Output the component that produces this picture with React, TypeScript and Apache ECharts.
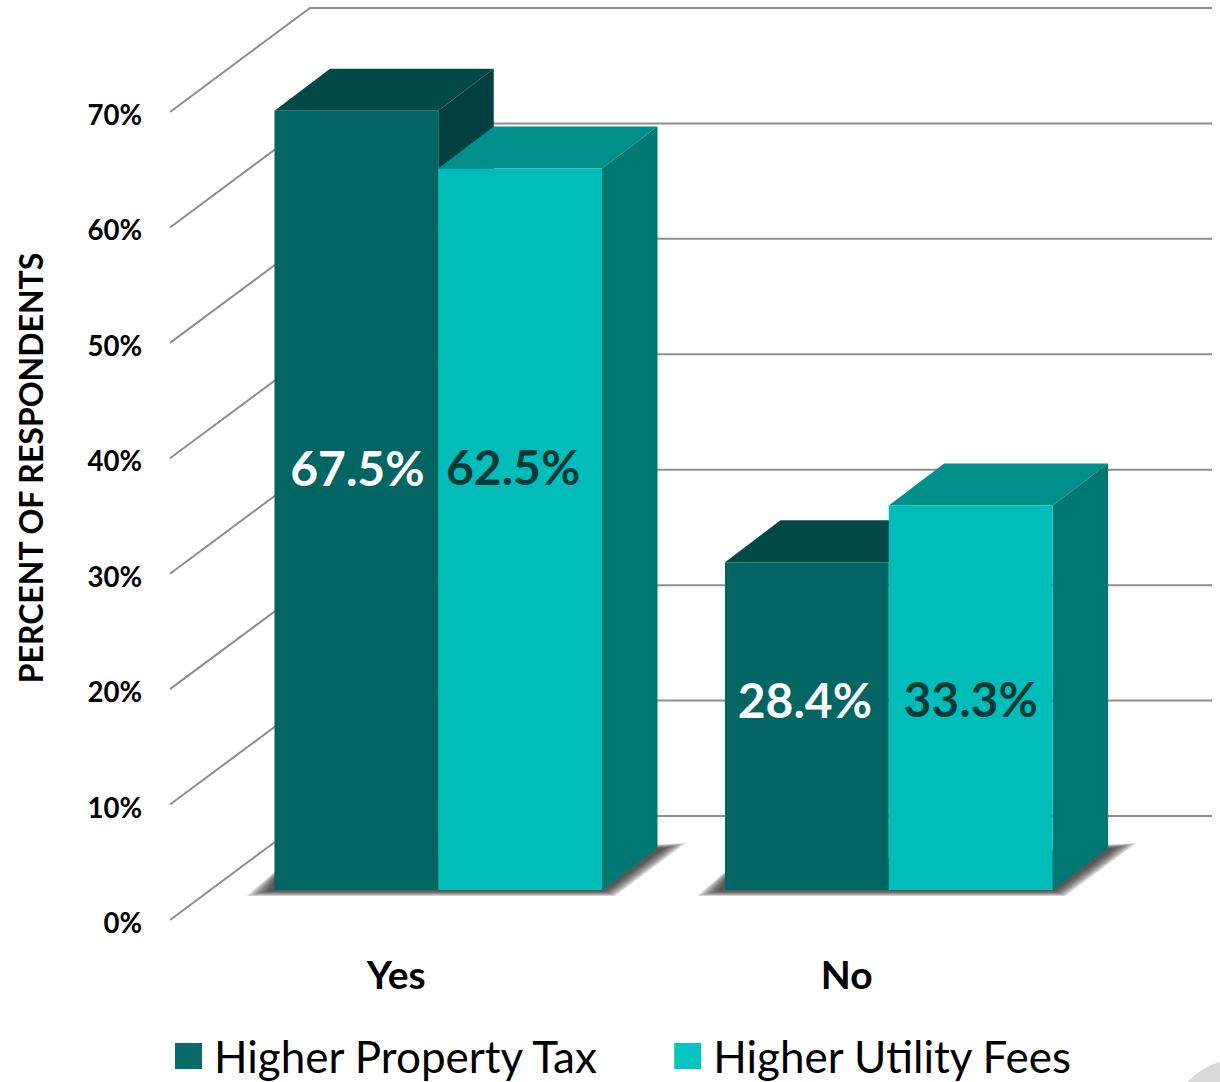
import React, { useEffect, useRef } from "react";
import * as echarts from "echarts";

const categories = ["Yes", "No"];
const seriesNames = ["Higher Property Tax", "Higher Utility Fees"];
const propertyTax = [67.5, 28.4];
const utilityFees = [62.5, 33.3];
const labelsProperty = ["67.5%", "28.4%"];
const labelsUtility = ["62.5%", "33.3%"];
const tickValues = [0, 10, 20, 30, 40, 50, 60, 70];

const FONT = "Lato, 'Noto Sans', sans-serif";

// Pseudo-3D projection of the scene (pixels)
const LABEL_DROP = 2.5;               // the axis labels sit this far below the front-plane gridline ends
const FLOOR_DX = 140, FLOOR_DY = 104 + LABEL_DROP; // axis plane -> back wall
const BAR_DX = 40, BAR_DY = 30 + LABEL_DROP;       // axis plane -> bar front faces
const DEPTH_DX = 55.5, DEPTH_DY = 42; // bar depth
const BAR_BAND = 0.3635;              // bar width as part of a category band
const LABEL_LEVEL = [36.6, 16.5];     // level (in axis units above the bar floor) of the labels in each group
const SHADOW_LAYERS = 9;

const shades = [
  { front: "#016563", top: "#014A47", side: "#00403E", text: "#FFFFFF", nudge: [[1, 0], [-2, 0]] },
  { front: "#00BDB9", top: "#008F8B", side: "#007974", text: "#003B3A", nudge: [[-7, -1], [0, -1]] },
];

const wallItem = (params: any, api: any) => {
  const g = params.coordSys;
  const p = api.coord([0, api.value(1)]);
  const x0 = g.x - 3;
  return {
    type: "polyline",
    silent: true,
    shape: {
      points: [
        [x0, p[1] - LABEL_DROP],
        [x0 + FLOOR_DX, p[1] - FLOOR_DY],
        [g.x + g.width + FLOOR_DX - 2, p[1] - FLOOR_DY],
      ],
    },
    style: { fill: "none", stroke: "#8E8E8E", lineWidth: 2 },
  };
};

// Soft floor shadow: stacked translucent polygons, widest first
const shadowItem = (params: any, api: any) => {
  const c = api.coord([api.value(0), 0]);
  const w = api.size([1, 0])[0] * BAR_BAND;
  const x = c[0] + BAR_DX;
  const y = c[1] - BAR_DY;
  const children = [];
  for (let i = 0; i < SHADOW_LAYERS; i++) {
    const t = 1 - i / (SHADOW_LAYERS - 1);
    children.push({
      type: "polygon",
      silent: true,
      shape: {
        points: [
          [x - w - 6 - 22 * t, y + 1 + 5 * t],
          [x - w + 8, y - 22 - 3 * t],
          [x + w + 62 + 22 * t, y - 42 - 5 * t],
          [x + w + 3 + 10 * t, y + 1 + 5 * t],
        ],
      },
      style: { fill: "rgba(40,40,40,0.15)" },
    });
  }
  return { type: "group", children };
};

const barItem = (idx: number, labels: string[]) => (params: any, api: any) => {
  const cat = api.value(0);
  const val = api.value(1);
  const base = api.coord([cat, 0]);
  const topP = api.coord([cat, val]);
  const w = api.size([1, 0])[0] * BAR_BAND;
  const xL = base[0] + BAR_DX + (idx === 0 ? -w : 0);
  const xR = xL + w;
  const yB = base[1] - BAR_DY;
  const yT = topP[1] - BAR_DY;
  const s = shades[idx];
  const labelY = api.coord([cat, LABEL_LEVEL[cat]])[1] - BAR_DY;
  const nudge = s.nudge[cat];
  return {
    type: "group",
    children: [
      {
        type: "polygon",
        shape: { points: [[xL, yT], [xL + DEPTH_DX, yT - DEPTH_DY], [xR + DEPTH_DX, yT - DEPTH_DY], [xR, yT]] },
        style: { fill: s.top },
      },
      {
        type: "polygon",
        shape: { points: [[xR, yT], [xR + DEPTH_DX, yT - DEPTH_DY], [xR + DEPTH_DX, yB - DEPTH_DY], [xR, yB]] },
        style: { fill: s.side },
      },
      { type: "rect", shape: { x: xL, y: yT, width: w, height: yB - yT }, style: { fill: s.front } },
      {
        type: "text",
        x: (xL + xR) / 2 + nudge[0],
        y: labelY + nudge[1],
        style: {
          text: labels[params.dataIndex],
          fill: s.text,
          font: `bold 48px ${FONT}`,
          align: "center",
          verticalAlign: "middle",
        },
      },
    ],
  };
};

export default function App() {
  const ref = useRef<HTMLDivElement>(null);
  useEffect(() => {
    const chart = echarts.init(ref.current!, undefined, { renderer: "svg" });
    chart.setOption({
      animation: false,
      backgroundColor: "#FFFFFF",
      grid: { left: 173, top: 112 + LABEL_DROP, width: 901, height: 808, containLabel: false },
      xAxis: {
        type: "category",
        data: categories,
        axisLine: { show: false },
        axisTick: { show: false },
        axisLabel: { color: "#000", fontFamily: FONT, fontWeight: "bold", fontSize: 39, margin: 32, padding: [0, 4, 0, 0] },
      },
      yAxis: {
        type: "value",
        min: 0,
        max: 70,
        interval: 10,
        axisLine: { show: false },
        axisTick: { show: false },
        splitLine: { show: false },
        axisLabel: { color: "#000", fontFamily: FONT, fontWeight: "bold", fontSize: 27.6, margin: 31, formatter: "{value}%" },
      },
      legend: {
        data: seriesNames,
        left: 170,
        top: 1029,
        icon: "rect",
        itemWidth: 27,
        itemHeight: 26,
        itemGap: 74,
        selectedMode: false,
        textStyle: { color: "#000", fontFamily: FONT, fontSize: 44, padding: [0, 0, 14, 7] },
      },
      graphic: [
        {
          type: "circle",
          silent: true,
          shape: { cx: 1240, cy: 1130, r: 71 },
          style: { fill: "#D9D9D9" },
          z: -1,
        },
        {
          type: "text",
          x: 30,
          y: 468,
          rotation: Math.PI / 2,
          style: {
            text: "PERCENT OF RESPONDENTS",
            fill: "#000",
            font: `bold 32px ${FONT}`,
            align: "center",
            verticalAlign: "middle",
          },
        },
      ],
      series: [
        {
          type: "custom",
          name: "wall",
          z: 1,
          renderItem: wallItem,
          encode: { x: 0, y: 1 },
          data: tickValues.map((v) => [0, v]),
        },
        {
          type: "custom",
          name: "floorShadow",
          z: 2,
          renderItem: shadowItem,
          encode: { x: 0, y: 1 },
          data: categories.map((_, i) => [i, 0]),
        },
        {
          type: "custom",
          name: seriesNames[0],
          z: 3,
          itemStyle: { color: "#076C69" },
          renderItem: barItem(0, labelsProperty),
          encode: { x: 0, y: 1 },
          data: propertyTax.map((v, i) => [i, v]),
        },
        {
          type: "custom",
          name: seriesNames[1],
          z: 4,
          itemStyle: { color: "#05C5C1" },
          renderItem: barItem(1, labelsUtility),
          encode: { x: 0, y: 1 },
          data: utilityFees.map((v, i) => [i, v]),
        },
      ],
    });
    return () => chart.dispose();
  }, []);
  return <div ref={ref} style={{ position: "fixed", left: 0, top: 0, width: 1220, height: 1082 }} />;
}
